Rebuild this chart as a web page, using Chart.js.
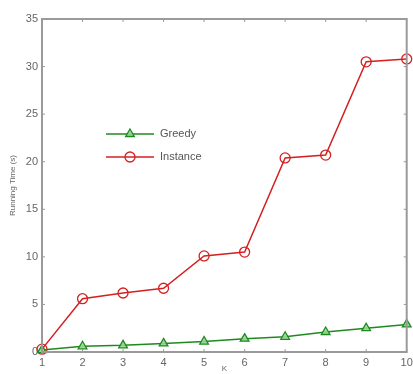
<!DOCTYPE html>
<html>
<head>
<meta charset="utf-8">
<script src="https://cdn.jsdelivr.net/npm/chart.js@4.4.0/dist/chart.umd.min.js"></script>
<style>
  html, body { margin: 0; padding: 0; background: #fff; }
  #wrap { width: 413px; height: 374px; position: relative; }
</style>
</head>
<body>
<div id="wrap"><canvas id="chart" width="413" height="374"></canvas></div>
<script>
const kValues = [1, 2, 3, 4, 5, 6, 7, 8, 9, 10];
const greedyTimes = [0.2, 0.6, 0.7, 0.9, 1.1, 1.4, 1.6, 2.1, 2.5, 2.9];
const instanceTimes = [0.3, 5.6, 6.2, 6.7, 10.1, 10.5, 20.4, 20.7, 30.5, 30.8];
const yTicks = [0, 5, 10, 15, 20, 25, 30, 35];

const axisGray = '#9a9a9a';
const labelGray = '#666';
const fontFamily = '"Liberation Sans", Arial, sans-serif';

// box around plot + inward tick marks, like matlab
const framePlugin = {
    id: 'frame',
    afterDraw(chart) {
        const { ctx, chartArea: a, scales } = chart;
        ctx.save();
        ctx.strokeStyle = axisGray;
        ctx.lineWidth = 2;
        ctx.strokeRect(a.left, a.top, a.right - a.left, a.bottom - a.top);
        ctx.lineWidth = 1;
        ctx.beginPath();
        kValues.forEach(k => {
            const x = scales.x.getPixelForValue(k);
            ctx.moveTo(x, a.bottom); ctx.lineTo(x, a.bottom - 3);
            ctx.moveTo(x, a.top); ctx.lineTo(x, a.top + 3);
        });
        yTicks.forEach(v => {
            const y = scales.y.getPixelForValue(v);
            ctx.moveTo(a.left, y); ctx.lineTo(a.left + 3, y);
            ctx.moveTo(a.right, y); ctx.lineTo(a.right - 3, y);
        });
        ctx.stroke();
        ctx.restore();
    }
};

// legend placed inside the plot
const legendPlugin = {
    id: 'innerLegend',
    afterDraw(chart) {
        const { ctx } = chart;
        const items = chart.data.datasets;
        ctx.save();
        items.forEach((ds, i) => {
            const y = 134 + i * 23;
            const x0 = 106, x1 = 154;
            ctx.strokeStyle = ds.borderColor;
            ctx.lineWidth = 1.5;
            ctx.beginPath();
            ctx.moveTo(x0, y); ctx.lineTo(x1, y);
            ctx.stroke();
            ctx.fillStyle = ds.pointBackgroundColor;
            ctx.strokeStyle = ds.borderColor;
            ctx.lineWidth = 1.3;
            Chart.helpers.drawPoint(ctx, {
                pointStyle: ds.pointStyle,
                radius: ds.pointRadius,
                borderWidth: 1.3
            }, (x0 + x1) / 2, y);
            ctx.fillStyle = '#555';
            ctx.font = '11px ' + fontFamily;
            ctx.textBaseline = 'middle';
            ctx.fillText(ds.label, x1 + 6, y);
        });
        ctx.restore();
    }
};

new Chart(document.getElementById('chart'), {
    type: 'line',
    data: {
        datasets: [
            {
                label: 'Greedy',
                data: kValues.map((k, i) => ({ x: k, y: greedyTimes[i] })),
                borderColor: '#1e8a1e',
                pointBackgroundColor: 'rgba(150, 215, 150, 0.9)',
                pointStyle: 'triangle',
                pointRadius: 5,
                pointBorderWidth: 1.3,
                borderWidth: 1.5,
                tension: 0
            },
            {
                label: 'Instance',
                data: kValues.map((k, i) => ({ x: k, y: instanceTimes[i] })),
                borderColor: '#d42020',
                pointBackgroundColor: 'rgba(255, 255, 255, 0)',
                pointStyle: 'circle',
                pointRadius: 5,
                pointBorderWidth: 1.3,
                borderWidth: 1.5,
                tension: 0
            }
        ]
    },
    options: {
        responsive: false,
        animation: false,
        clip: false,
        layout: { padding: { left: 0, right: 3, top: 19, bottom: 0 } },
        plugins: {
            legend: { display: false },
            tooltip: { enabled: false }
        },
        scales: {
            x: {
                type: 'linear',
                min: 1,
                max: 10,
                afterFit(scale) {
                    scale.height = 22;
                    scale.paddingLeft = 0;
                    scale.paddingRight = 0;
                },
                afterBuildTicks(scale) { scale.ticks = kValues.map(v => ({ value: v })); },
                grid: { display: false, drawTicks: false },
                border: { display: false },
                ticks: {
                    color: labelGray,
                    font: { size: 11, family: fontFamily },
                    padding: 4,
                    maxRotation: 0
                },
                title: {
                    display: true,
                    text: 'K',
                    color: labelGray,
                    font: { size: 8, family: fontFamily },
                    padding: { top: 0, bottom: 0 }
                }
            },
            y: {
                min: 0,
                max: 35,
                afterFit(scale) { scale.width = 42; },
                afterBuildTicks(scale) { scale.ticks = yTicks.map(v => ({ value: v })); },
                grid: { display: false, drawTicks: false },
                border: { display: false },
                ticks: {
                    color: labelGray,
                    font: { size: 11, family: fontFamily },
                    padding: 4
                },
                title: {
                    display: true,
                    text: 'Running Time (s)',
                    color: labelGray,
                    font: { size: 8, family: fontFamily },
                    padding: { top: 8, bottom: 2 }
                }
            }
        }
    },
    plugins: [framePlugin, legendPlugin]
});
</script>
</body>
</html>
